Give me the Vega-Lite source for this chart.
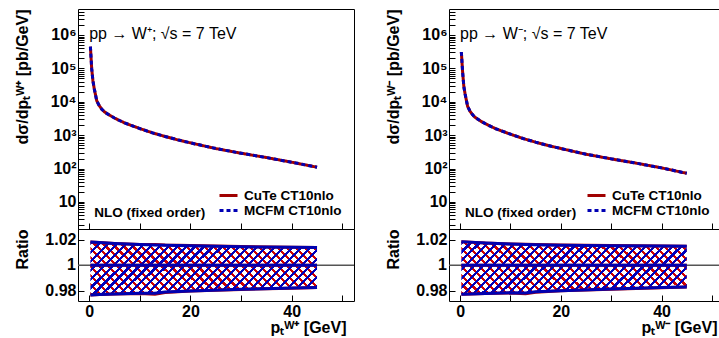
{
"$schema":"https://vega.github.io/schema/vega-lite/v6.json",
"autosize":{"type":"pad"},
"padding":{"left":13,"top":3,"right":0,"bottom":0},
"spacing":28,
"config":{
 "font":"Liberation Sans",
 "view":{"stroke":"black","strokeWidth":1},
 "axis":{"labelFont":"Liberation Sans","labelFontWeight":"bold","labelFontSize":16,"labelColor":"black","titleFont":"Liberation Sans","titleFontWeight":"bold","titleFontSize":16,"titleColor":"black","domain":false,"grid":false,"tickColor":"black","tickWidth":1,"tickSize":-6,"labelPadding":8},
 "axisY":{"minExtent":38,"maxExtent":38},
 "legend":{"orient":"bottom-right","offset":12,"padding":0,"symbolType":"M-1.5,0H1.5","symbolSize":144,"symbolStrokeWidth":3,"labelFont":"Liberation Sans","labelFontWeight":"bold","labelFontSize":13.5,"labelColor":"black","rowPadding":1,"labelOffset":8,"labelLimit":200}
},
"datasets":{
 "wp":[
  {"pt":0.25,"CuTe CT10nlo":447000,"MCFM CT10nlo":447000},
  {"pt":0.5,"CuTe CT10nlo":100000,"MCFM CT10nlo":100000},
  {"pt":0.75,"CuTe CT10nlo":42000,"MCFM CT10nlo":42000},
  {"pt":1,"CuTe CT10nlo":25000,"MCFM CT10nlo":25000},
  {"pt":1.5,"CuTe CT10nlo":10700,"MCFM CT10nlo":10700},
  {"pt":2,"CuTe CT10nlo":7600,"MCFM CT10nlo":7600},
  {"pt":2.5,"CuTe CT10nlo":6000,"MCFM CT10nlo":6000},
  {"pt":3,"CuTe CT10nlo":5000,"MCFM CT10nlo":5000},
  {"pt":4,"CuTe CT10nlo":3980,"MCFM CT10nlo":3980},
  {"pt":5,"CuTe CT10nlo":3270,"MCFM CT10nlo":3270},
  {"pt":6,"CuTe CT10nlo":2750,"MCFM CT10nlo":2750},
  {"pt":7,"CuTe CT10nlo":2340,"MCFM CT10nlo":2340},
  {"pt":8,"CuTe CT10nlo":2040,"MCFM CT10nlo":2040},
  {"pt":10,"CuTe CT10nlo":1580,"MCFM CT10nlo":1580},
  {"pt":12.5,"CuTe CT10nlo":1175,"MCFM CT10nlo":1175},
  {"pt":15,"CuTe CT10nlo":912,"MCFM CT10nlo":912},
  {"pt":17.5,"CuTe CT10nlo":724,"MCFM CT10nlo":724},
  {"pt":20,"CuTe CT10nlo":589,"MCFM CT10nlo":589},
  {"pt":25,"CuTe CT10nlo":398,"MCFM CT10nlo":398},
  {"pt":30,"CuTe CT10nlo":288,"MCFM CT10nlo":288},
  {"pt":35,"CuTe CT10nlo":214,"MCFM CT10nlo":214},
  {"pt":40,"CuTe CT10nlo":155,"MCFM CT10nlo":155},
  {"pt":45,"CuTe CT10nlo":110,"MCFM CT10nlo":110}
 ],
 "wm":[
  {"pt":0.25,"CuTe CT10nlo":310000,"MCFM CT10nlo":310000},
  {"pt":0.5,"CuTe CT10nlo":79000,"MCFM CT10nlo":79000},
  {"pt":0.75,"CuTe CT10nlo":28000,"MCFM CT10nlo":28000},
  {"pt":1,"CuTe CT10nlo":17000,"MCFM CT10nlo":17000},
  {"pt":1.5,"CuTe CT10nlo":7240,"MCFM CT10nlo":7240},
  {"pt":2,"CuTe CT10nlo":5130,"MCFM CT10nlo":5130},
  {"pt":2.5,"CuTe CT10nlo":4070,"MCFM CT10nlo":4070},
  {"pt":3,"CuTe CT10nlo":3390,"MCFM CT10nlo":3390},
  {"pt":4,"CuTe CT10nlo":2690,"MCFM CT10nlo":2690},
  {"pt":5,"CuTe CT10nlo":2210,"MCFM CT10nlo":2210},
  {"pt":6,"CuTe CT10nlo":1860,"MCFM CT10nlo":1860},
  {"pt":7,"CuTe CT10nlo":1580,"MCFM CT10nlo":1580},
  {"pt":8,"CuTe CT10nlo":1380,"MCFM CT10nlo":1380},
  {"pt":10,"CuTe CT10nlo":1070,"MCFM CT10nlo":1070},
  {"pt":12.5,"CuTe CT10nlo":794,"MCFM CT10nlo":794},
  {"pt":15,"CuTe CT10nlo":617,"MCFM CT10nlo":617},
  {"pt":17.5,"CuTe CT10nlo":490,"MCFM CT10nlo":490},
  {"pt":20,"CuTe CT10nlo":398,"MCFM CT10nlo":398},
  {"pt":25,"CuTe CT10nlo":269,"MCFM CT10nlo":269},
  {"pt":30,"CuTe CT10nlo":195,"MCFM CT10nlo":195},
  {"pt":35,"CuTe CT10nlo":145,"MCFM CT10nlo":145},
  {"pt":40,"CuTe CT10nlo":105,"MCFM CT10nlo":105},
  {"pt":45,"CuTe CT10nlo":72,"MCFM CT10nlo":72}
 ],
 "rp":[
  {"pt":0.25,"model":"CuTe CT10nlo","hi":1.0183,"mid":1,"lo":0.9768},
  {"pt":2,"model":"CuTe CT10nlo","hi":1.0180,"mid":1,"lo":0.9771},
  {"pt":5,"model":"CuTe CT10nlo","hi":1.0172,"mid":1,"lo":0.9775},
  {"pt":10,"model":"CuTe CT10nlo","hi":1.0164,"mid":1,"lo":0.9779},
  {"pt":13,"model":"CuTe CT10nlo","hi":1.0163,"mid":1,"lo":0.9773},
  {"pt":15,"model":"CuTe CT10nlo","hi":1.0159,"mid":1,"lo":0.9786},
  {"pt":20,"model":"CuTe CT10nlo","hi":1.0155,"mid":1,"lo":0.9798},
  {"pt":30,"model":"CuTe CT10nlo","hi":1.0147,"mid":1,"lo":0.9811},
  {"pt":40,"model":"CuTe CT10nlo","hi":1.0141,"mid":1,"lo":0.9821},
  {"pt":45,"model":"CuTe CT10nlo","hi":1.0139,"mid":1,"lo":0.9826},
  {"pt":0.25,"model":"MCFM CT10nlo","hi":1.0183,"mid":1,"lo":0.9768},
  {"pt":2,"model":"MCFM CT10nlo","hi":1.0180,"mid":1,"lo":0.9771},
  {"pt":5,"model":"MCFM CT10nlo","hi":1.0172,"mid":1,"lo":0.9775},
  {"pt":10,"model":"MCFM CT10nlo","hi":1.0163,"mid":1,"lo":0.9781},
  {"pt":13,"model":"MCFM CT10nlo","hi":1.0160,"mid":1,"lo":0.9780},
  {"pt":15,"model":"MCFM CT10nlo","hi":1.0157,"mid":1,"lo":0.9790},
  {"pt":20,"model":"MCFM CT10nlo","hi":1.0153,"mid":1,"lo":0.9799},
  {"pt":30,"model":"MCFM CT10nlo","hi":1.0146,"mid":1,"lo":0.9812},
  {"pt":40,"model":"MCFM CT10nlo","hi":1.0141,"mid":1,"lo":0.9822},
  {"pt":45,"model":"MCFM CT10nlo","hi":1.0139,"mid":1,"lo":0.9826}
 ],
 "rm":[
  {"pt":0.25,"model":"CuTe CT10nlo","hi":1.0185,"mid":1,"lo":0.9773},
  {"pt":2,"model":"CuTe CT10nlo","hi":1.0182,"mid":1,"lo":0.9775},
  {"pt":5,"model":"CuTe CT10nlo","hi":1.0175,"mid":1,"lo":0.9779},
  {"pt":10,"model":"CuTe CT10nlo","hi":1.0168,"mid":1,"lo":0.9782},
  {"pt":13,"model":"CuTe CT10nlo","hi":1.0166,"mid":1,"lo":0.9777},
  {"pt":15,"model":"CuTe CT10nlo","hi":1.0163,"mid":1,"lo":0.9789},
  {"pt":20,"model":"CuTe CT10nlo","hi":1.0159,"mid":1,"lo":0.9800},
  {"pt":30,"model":"CuTe CT10nlo","hi":1.0155,"mid":1,"lo":0.9813},
  {"pt":40,"model":"CuTe CT10nlo","hi":1.0151,"mid":1,"lo":0.9824},
  {"pt":45,"model":"CuTe CT10nlo","hi":1.0150,"mid":1,"lo":0.9830},
  {"pt":0.25,"model":"MCFM CT10nlo","hi":1.0185,"mid":1,"lo":0.9773},
  {"pt":2,"model":"MCFM CT10nlo","hi":1.0182,"mid":1,"lo":0.9775},
  {"pt":5,"model":"MCFM CT10nlo","hi":1.0175,"mid":1,"lo":0.9779},
  {"pt":10,"model":"MCFM CT10nlo","hi":1.0167,"mid":1,"lo":0.9784},
  {"pt":13,"model":"MCFM CT10nlo","hi":1.0163,"mid":1,"lo":0.9783},
  {"pt":15,"model":"MCFM CT10nlo","hi":1.0161,"mid":1,"lo":0.9792},
  {"pt":20,"model":"MCFM CT10nlo","hi":1.0158,"mid":1,"lo":0.9801},
  {"pt":30,"model":"MCFM CT10nlo","hi":1.0154,"mid":1,"lo":0.9814},
  {"pt":40,"model":"MCFM CT10nlo","hi":1.0151,"mid":1,"lo":0.9825},
  {"pt":45,"model":"MCFM CT10nlo","hi":1.0150,"mid":1,"lo":0.9830}
 ]
},
"resolve":{"scale":{"x":"independent","y":"independent","color":"independent","strokeDash":"independent","stroke":"independent"},"legend":{"color":"independent","strokeDash":"independent"}},
"hconcat":[
 {"bounds":"flush","spacing":0,
  "resolve":{"scale":{"x":"independent","y":"independent","color":"independent","strokeDash":"independent","stroke":"independent"},"legend":{"color":"independent","strokeDash":"independent"}},
  "vconcat":[
  {"width":276,"height":220,
   "layer":[
    {"data":{"name":"wp"},
     "transform":[{"fold":["CuTe CT10nlo","MCFM CT10nlo"],"as":["model","xs"]}],
     "mark":{"type":"line","strokeWidth":3},
     "encoding":{
      "x":{"field":"pt","type":"quantitative","scale":{"domain":[-2.2,52.3],"nice":false,"zero":false},
           "axis":{"values":[0,5,10,15,20,25,30,35,40,45,50],"labels":false,"title":null}},
      "y":{"field":"xs","type":"quantitative","scale":{"type":"log","domain":[1.55,6000000],"nice":false},
           "axis":{"values":[2,3,4,5,6,7,8,9,10,20,30,40,50,60,70,80,90,100,200,300,400,500,600,700,800,900,1000,2000,3000,4000,5000,6000,7000,8000,9000,10000,20000,30000,40000,50000,60000,70000,80000,90000,100000,200000,300000,400000,500000,600000,700000,800000,900000,1000000,2000000,3000000,4000000,5000000],
            "labelExpr":"datum.value==10?'10':datum.value==100?'10²':datum.value==1000?'10³':datum.value==10000?'10⁴':datum.value==100000?'10⁵':datum.value==1000000?'10⁶':''",
            "labelBound":false,"labelFlush":false,"labelOverlap":false,
            "title":"dσ/dpₜᵂ⁺ [pb/GeV]","titleAnchor":"end","titlePadding":10}},
      "color":{"field":"model","type":"nominal","scale":{"domain":["CuTe CT10nlo","MCFM CT10nlo"],"range":["#a00000","#0000b4"]},"legend":{"title":null}},
      "strokeDash":{"field":"model","type":"nominal","scale":{"domain":["CuTe CT10nlo","MCFM CT10nlo"],"range":[[1,0],[4,3]]},"legend":{"title":null}}
     }},
    {"data":{"values":[{"t":"pp → W⁺; √s = 7 TeV"}]},
     "mark":{"type":"text","align":"left","baseline":"middle","fontSize":16,"font":"Liberation Sans","color":"black"},
     "encoding":{"x":{"datum":0,"type":"quantitative"},"y":{"datum":1100000,"type":"quantitative"},"text":{"field":"t"}}},
    {"data":{"values":[{"t":"NLO (fixed order)"}]},
     "mark":{"type":"text","align":"left","baseline":"middle","fontSize":13.5,"fontWeight":"bold","font":"Liberation Sans","color":"black"},
     "encoding":{"x":{"datum":1,"type":"quantitative"},"y":{"datum":4.7,"type":"quantitative"},"text":{"field":"t"}}}
   ]},
  {"width":276,"height":72,
   "layer":[
    {"data":{"name":"rp"},"transform":[{"filter":"datum.model == 'CuTe CT10nlo'"}],
     "mark":{"type":"area","fill":{"gradient":"linear","x1":0,"y1":1,"x2":1.2,"y2":0.718,"stops":[
{"offset":0,"color":"transparent"},{"offset":0,"color":"#cc0000"},{"offset":0.011,"color":"#cc0000"},{"offset":0.011,"color":"transparent"},
{"offset":0.03125,"color":"transparent"},{"offset":0.03125,"color":"#cc0000"},{"offset":0.04225,"color":"#cc0000"},{"offset":0.04225,"color":"transparent"},
{"offset":0.0625,"color":"transparent"},{"offset":0.0625,"color":"#cc0000"},{"offset":0.0735,"color":"#cc0000"},{"offset":0.0735,"color":"transparent"},
{"offset":0.09375,"color":"transparent"},{"offset":0.09375,"color":"#cc0000"},{"offset":0.10475,"color":"#cc0000"},{"offset":0.10475,"color":"transparent"},
{"offset":0.125,"color":"transparent"},{"offset":0.125,"color":"#cc0000"},{"offset":0.136,"color":"#cc0000"},{"offset":0.136,"color":"transparent"},
{"offset":0.15625,"color":"transparent"},{"offset":0.15625,"color":"#cc0000"},{"offset":0.16725,"color":"#cc0000"},{"offset":0.16725,"color":"transparent"},
{"offset":0.1875,"color":"transparent"},{"offset":0.1875,"color":"#cc0000"},{"offset":0.1985,"color":"#cc0000"},{"offset":0.1985,"color":"transparent"},
{"offset":0.21875,"color":"transparent"},{"offset":0.21875,"color":"#cc0000"},{"offset":0.22975,"color":"#cc0000"},{"offset":0.22975,"color":"transparent"},
{"offset":0.25,"color":"transparent"},{"offset":0.25,"color":"#cc0000"},{"offset":0.261,"color":"#cc0000"},{"offset":0.261,"color":"transparent"},
{"offset":0.28125,"color":"transparent"},{"offset":0.28125,"color":"#cc0000"},{"offset":0.29225,"color":"#cc0000"},{"offset":0.29225,"color":"transparent"},
{"offset":0.3125,"color":"transparent"},{"offset":0.3125,"color":"#cc0000"},{"offset":0.3235,"color":"#cc0000"},{"offset":0.3235,"color":"transparent"},
{"offset":0.34375,"color":"transparent"},{"offset":0.34375,"color":"#cc0000"},{"offset":0.35475,"color":"#cc0000"},{"offset":0.35475,"color":"transparent"},
{"offset":0.375,"color":"transparent"},{"offset":0.375,"color":"#cc0000"},{"offset":0.386,"color":"#cc0000"},{"offset":0.386,"color":"transparent"},
{"offset":0.40625,"color":"transparent"},{"offset":0.40625,"color":"#cc0000"},{"offset":0.41725,"color":"#cc0000"},{"offset":0.41725,"color":"transparent"},
{"offset":0.4375,"color":"transparent"},{"offset":0.4375,"color":"#cc0000"},{"offset":0.4485,"color":"#cc0000"},{"offset":0.4485,"color":"transparent"},
{"offset":0.46875,"color":"transparent"},{"offset":0.46875,"color":"#cc0000"},{"offset":0.47975,"color":"#cc0000"},{"offset":0.47975,"color":"transparent"},
{"offset":0.5,"color":"transparent"},{"offset":0.5,"color":"#cc0000"},{"offset":0.511,"color":"#cc0000"},{"offset":0.511,"color":"transparent"},
{"offset":0.53125,"color":"transparent"},{"offset":0.53125,"color":"#cc0000"},{"offset":0.54225,"color":"#cc0000"},{"offset":0.54225,"color":"transparent"},
{"offset":0.5625,"color":"transparent"},{"offset":0.5625,"color":"#cc0000"},{"offset":0.5735,"color":"#cc0000"},{"offset":0.5735,"color":"transparent"},
{"offset":0.59375,"color":"transparent"},{"offset":0.59375,"color":"#cc0000"},{"offset":0.60475,"color":"#cc0000"},{"offset":0.60475,"color":"transparent"},
{"offset":0.625,"color":"transparent"},{"offset":0.625,"color":"#cc0000"},{"offset":0.636,"color":"#cc0000"},{"offset":0.636,"color":"transparent"},
{"offset":0.65625,"color":"transparent"},{"offset":0.65625,"color":"#cc0000"},{"offset":0.66725,"color":"#cc0000"},{"offset":0.66725,"color":"transparent"},
{"offset":0.6875,"color":"transparent"},{"offset":0.6875,"color":"#cc0000"},{"offset":0.6985,"color":"#cc0000"},{"offset":0.6985,"color":"transparent"},
{"offset":0.71875,"color":"transparent"},{"offset":0.71875,"color":"#cc0000"},{"offset":0.72975,"color":"#cc0000"},{"offset":0.72975,"color":"transparent"},
{"offset":0.75,"color":"transparent"},{"offset":0.75,"color":"#cc0000"},{"offset":0.761,"color":"#cc0000"},{"offset":0.761,"color":"transparent"},
{"offset":0.78125,"color":"transparent"},{"offset":0.78125,"color":"#cc0000"},{"offset":0.79225,"color":"#cc0000"},{"offset":0.79225,"color":"transparent"},
{"offset":0.8125,"color":"transparent"},{"offset":0.8125,"color":"#cc0000"},{"offset":0.8235,"color":"#cc0000"},{"offset":0.8235,"color":"transparent"},
{"offset":0.84375,"color":"transparent"},{"offset":0.84375,"color":"#cc0000"},{"offset":0.85475,"color":"#cc0000"},{"offset":0.85475,"color":"transparent"},
{"offset":0.875,"color":"transparent"},{"offset":0.875,"color":"#cc0000"},{"offset":0.886,"color":"#cc0000"},{"offset":0.886,"color":"transparent"},
{"offset":0.90625,"color":"transparent"},{"offset":0.90625,"color":"#cc0000"},{"offset":0.91725,"color":"#cc0000"},{"offset":0.91725,"color":"transparent"},
{"offset":0.9375,"color":"transparent"},{"offset":0.9375,"color":"#cc0000"},{"offset":0.9485,"color":"#cc0000"},{"offset":0.9485,"color":"transparent"},
{"offset":0.96875,"color":"transparent"},{"offset":0.96875,"color":"#cc0000"},{"offset":0.97975,"color":"#cc0000"},{"offset":0.97975,"color":"transparent"}
]}},
     "encoding":{
      "x":{"field":"pt","type":"quantitative","scale":{"domain":[-2.2,52.3],"nice":false,"zero":false},
           "axis":{"values":[0,5,10,15,20,25,30,35,40,45,50],"labelExpr":"datum.value==0?'0':datum.value==20?'20':datum.value==40?'40':''","labelOverlap":false,"title":"pₜᵂ⁺ [GeV]","titleAnchor":"end","titleAlign":"right","titleX":268,"titlePadding":0}},
      "y":{"field":"hi","type":"quantitative","scale":{"domain":[0.972,1.0285],"nice":false,"zero":false},
           "axis":{"values":[0.98,1,1.02],"format":"~g",
            "labelOverlap":false,"labelBound":false,"labelFlush":false,
            "title":"Ratio","titleAnchor":"end","titlePadding":10}},
      "y2":{"field":"lo"}}},
    {"data":{"values":[{"r":1}]},"mark":{"type":"rule","color":"#555555","strokeWidth":1.5},
     "encoding":{"y":{"field":"r","type":"quantitative"}}},
    {"data":{"name":"rp"},"transform":[{"filter":"datum.model == 'MCFM CT10nlo'"}],
     "mark":{"type":"area","fill":{"gradient":"linear","x1":0,"y1":0,"x2":1.2,"y2":0.282,"stops":[
{"offset":0,"color":"transparent"},{"offset":0,"color":"#0000bb"},{"offset":0.011,"color":"#0000bb"},{"offset":0.011,"color":"transparent"},
{"offset":0.03125,"color":"transparent"},{"offset":0.03125,"color":"#0000bb"},{"offset":0.04225,"color":"#0000bb"},{"offset":0.04225,"color":"transparent"},
{"offset":0.0625,"color":"transparent"},{"offset":0.0625,"color":"#0000bb"},{"offset":0.0735,"color":"#0000bb"},{"offset":0.0735,"color":"transparent"},
{"offset":0.09375,"color":"transparent"},{"offset":0.09375,"color":"#0000bb"},{"offset":0.10475,"color":"#0000bb"},{"offset":0.10475,"color":"transparent"},
{"offset":0.125,"color":"transparent"},{"offset":0.125,"color":"#0000bb"},{"offset":0.136,"color":"#0000bb"},{"offset":0.136,"color":"transparent"},
{"offset":0.15625,"color":"transparent"},{"offset":0.15625,"color":"#0000bb"},{"offset":0.16725,"color":"#0000bb"},{"offset":0.16725,"color":"transparent"},
{"offset":0.1875,"color":"transparent"},{"offset":0.1875,"color":"#0000bb"},{"offset":0.1985,"color":"#0000bb"},{"offset":0.1985,"color":"transparent"},
{"offset":0.21875,"color":"transparent"},{"offset":0.21875,"color":"#0000bb"},{"offset":0.22975,"color":"#0000bb"},{"offset":0.22975,"color":"transparent"},
{"offset":0.25,"color":"transparent"},{"offset":0.25,"color":"#0000bb"},{"offset":0.261,"color":"#0000bb"},{"offset":0.261,"color":"transparent"},
{"offset":0.28125,"color":"transparent"},{"offset":0.28125,"color":"#0000bb"},{"offset":0.29225,"color":"#0000bb"},{"offset":0.29225,"color":"transparent"},
{"offset":0.3125,"color":"transparent"},{"offset":0.3125,"color":"#0000bb"},{"offset":0.3235,"color":"#0000bb"},{"offset":0.3235,"color":"transparent"},
{"offset":0.34375,"color":"transparent"},{"offset":0.34375,"color":"#0000bb"},{"offset":0.35475,"color":"#0000bb"},{"offset":0.35475,"color":"transparent"},
{"offset":0.375,"color":"transparent"},{"offset":0.375,"color":"#0000bb"},{"offset":0.386,"color":"#0000bb"},{"offset":0.386,"color":"transparent"},
{"offset":0.40625,"color":"transparent"},{"offset":0.40625,"color":"#0000bb"},{"offset":0.41725,"color":"#0000bb"},{"offset":0.41725,"color":"transparent"},
{"offset":0.4375,"color":"transparent"},{"offset":0.4375,"color":"#0000bb"},{"offset":0.4485,"color":"#0000bb"},{"offset":0.4485,"color":"transparent"},
{"offset":0.46875,"color":"transparent"},{"offset":0.46875,"color":"#0000bb"},{"offset":0.47975,"color":"#0000bb"},{"offset":0.47975,"color":"transparent"},
{"offset":0.5,"color":"transparent"},{"offset":0.5,"color":"#0000bb"},{"offset":0.511,"color":"#0000bb"},{"offset":0.511,"color":"transparent"},
{"offset":0.53125,"color":"transparent"},{"offset":0.53125,"color":"#0000bb"},{"offset":0.54225,"color":"#0000bb"},{"offset":0.54225,"color":"transparent"},
{"offset":0.5625,"color":"transparent"},{"offset":0.5625,"color":"#0000bb"},{"offset":0.5735,"color":"#0000bb"},{"offset":0.5735,"color":"transparent"},
{"offset":0.59375,"color":"transparent"},{"offset":0.59375,"color":"#0000bb"},{"offset":0.60475,"color":"#0000bb"},{"offset":0.60475,"color":"transparent"},
{"offset":0.625,"color":"transparent"},{"offset":0.625,"color":"#0000bb"},{"offset":0.636,"color":"#0000bb"},{"offset":0.636,"color":"transparent"},
{"offset":0.65625,"color":"transparent"},{"offset":0.65625,"color":"#0000bb"},{"offset":0.66725,"color":"#0000bb"},{"offset":0.66725,"color":"transparent"},
{"offset":0.6875,"color":"transparent"},{"offset":0.6875,"color":"#0000bb"},{"offset":0.6985,"color":"#0000bb"},{"offset":0.6985,"color":"transparent"},
{"offset":0.71875,"color":"transparent"},{"offset":0.71875,"color":"#0000bb"},{"offset":0.72975,"color":"#0000bb"},{"offset":0.72975,"color":"transparent"},
{"offset":0.75,"color":"transparent"},{"offset":0.75,"color":"#0000bb"},{"offset":0.761,"color":"#0000bb"},{"offset":0.761,"color":"transparent"},
{"offset":0.78125,"color":"transparent"},{"offset":0.78125,"color":"#0000bb"},{"offset":0.79225,"color":"#0000bb"},{"offset":0.79225,"color":"transparent"},
{"offset":0.8125,"color":"transparent"},{"offset":0.8125,"color":"#0000bb"},{"offset":0.8235,"color":"#0000bb"},{"offset":0.8235,"color":"transparent"},
{"offset":0.84375,"color":"transparent"},{"offset":0.84375,"color":"#0000bb"},{"offset":0.85475,"color":"#0000bb"},{"offset":0.85475,"color":"transparent"},
{"offset":0.875,"color":"transparent"},{"offset":0.875,"color":"#0000bb"},{"offset":0.886,"color":"#0000bb"},{"offset":0.886,"color":"transparent"},
{"offset":0.90625,"color":"transparent"},{"offset":0.90625,"color":"#0000bb"},{"offset":0.91725,"color":"#0000bb"},{"offset":0.91725,"color":"transparent"},
{"offset":0.9375,"color":"transparent"},{"offset":0.9375,"color":"#0000bb"},{"offset":0.9485,"color":"#0000bb"},{"offset":0.9485,"color":"transparent"},
{"offset":0.96875,"color":"transparent"},{"offset":0.96875,"color":"#0000bb"},{"offset":0.97975,"color":"#0000bb"},{"offset":0.97975,"color":"transparent"}
]}},
     "encoding":{"x":{"field":"pt","type":"quantitative"},"y":{"field":"hi","type":"quantitative"},"y2":{"field":"lo"}}},
    {"data":{"name":"rp"},"mark":{"type":"line","strokeWidth":3},
     "encoding":{"x":{"field":"pt","type":"quantitative"},"y":{"field":"hi","type":"quantitative"},
      "stroke":{"field":"model","type":"nominal","scale":{"domain":["CuTe CT10nlo","MCFM CT10nlo"],"range":["#b00000","#0000b0"]},"legend":null}}},
    {"data":{"name":"rp"},"mark":{"type":"line","strokeWidth":3},
     "encoding":{"x":{"field":"pt","type":"quantitative"},"y":{"field":"lo","type":"quantitative"},
      "stroke":{"field":"model","type":"nominal","legend":null}}},
    {"data":{"name":"rp"},"mark":{"type":"line","strokeWidth":3},
     "encoding":{"x":{"field":"pt","type":"quantitative"},"y":{"field":"mid","type":"quantitative"},
      "stroke":{"field":"model","type":"nominal","legend":null}}},
    {"data":{"values":[{"t":"1"}]},
     "mark":{"type":"text","align":"right","baseline":"middle","dx":-2,"fontSize":16,"fontWeight":"bold","font":"Liberation Sans","color":"black"},
     "encoding":{"x":{"datum":-2.2,"type":"quantitative"},"y":{"datum":1,"type":"quantitative"},"text":{"field":"t"}}}
   ]}
 ]},
 {"bounds":"flush","spacing":0,
  "resolve":{"scale":{"x":"independent","y":"independent","color":"independent","strokeDash":"independent","stroke":"independent"},"legend":{"color":"independent","strokeDash":"independent"}},
  "vconcat":[
  {"width":273,"height":220,
   "layer":[
    {"data":{"name":"wm"},
     "transform":[{"fold":["CuTe CT10nlo","MCFM CT10nlo"],"as":["model","xs"]}],
     "mark":{"type":"line","strokeWidth":3},
     "encoding":{
      "x":{"field":"pt","type":"quantitative","scale":{"domain":[-2.2,52.0],"nice":false,"zero":false},
           "axis":{"values":[0,5,10,15,20,25,30,35,40,45,50],"labels":false,"title":null}},
      "y":{"field":"xs","type":"quantitative","scale":{"type":"log","domain":[1.55,6000000],"nice":false},
           "axis":{"values":[2,3,4,5,6,7,8,9,10,20,30,40,50,60,70,80,90,100,200,300,400,500,600,700,800,900,1000,2000,3000,4000,5000,6000,7000,8000,9000,10000,20000,30000,40000,50000,60000,70000,80000,90000,100000,200000,300000,400000,500000,600000,700000,800000,900000,1000000,2000000,3000000,4000000,5000000],
            "labelExpr":"datum.value==10?'10':datum.value==100?'10²':datum.value==1000?'10³':datum.value==10000?'10⁴':datum.value==100000?'10⁵':datum.value==1000000?'10⁶':''",
            "labelBound":false,"labelFlush":false,"labelOverlap":false,
            "title":"dσ/dpₜᵂ⁻ [pb/GeV]","titleAnchor":"end","titlePadding":10}},
      "color":{"field":"model","type":"nominal","scale":{"domain":["CuTe CT10nlo","MCFM CT10nlo"],"range":["#a00000","#0000b4"]},"legend":{"title":null}},
      "strokeDash":{"field":"model","type":"nominal","scale":{"domain":["CuTe CT10nlo","MCFM CT10nlo"],"range":[[1,0],[4,3]]},"legend":{"title":null}}
     }},
    {"data":{"values":[{"t":"pp → W⁻; √s = 7 TeV"}]},
     "mark":{"type":"text","align":"left","baseline":"middle","fontSize":16,"font":"Liberation Sans","color":"black"},
     "encoding":{"x":{"datum":0,"type":"quantitative"},"y":{"datum":1100000,"type":"quantitative"},"text":{"field":"t"}}},
    {"data":{"values":[{"t":"NLO (fixed order)"}]},
     "mark":{"type":"text","align":"left","baseline":"middle","fontSize":13.5,"fontWeight":"bold","font":"Liberation Sans","color":"black"},
     "encoding":{"x":{"datum":1,"type":"quantitative"},"y":{"datum":4.7,"type":"quantitative"},"text":{"field":"t"}}}
   ]},
  {"width":273,"height":72,
   "layer":[
    {"data":{"name":"rm"},"transform":[{"filter":"datum.model == 'CuTe CT10nlo'"}],
     "mark":{"type":"area","fill":{"gradient":"linear","x1":0,"y1":1,"x2":1.2,"y2":0.718,"stops":[
{"offset":0,"color":"transparent"},{"offset":0,"color":"#cc0000"},{"offset":0.011,"color":"#cc0000"},{"offset":0.011,"color":"transparent"},
{"offset":0.03125,"color":"transparent"},{"offset":0.03125,"color":"#cc0000"},{"offset":0.04225,"color":"#cc0000"},{"offset":0.04225,"color":"transparent"},
{"offset":0.0625,"color":"transparent"},{"offset":0.0625,"color":"#cc0000"},{"offset":0.0735,"color":"#cc0000"},{"offset":0.0735,"color":"transparent"},
{"offset":0.09375,"color":"transparent"},{"offset":0.09375,"color":"#cc0000"},{"offset":0.10475,"color":"#cc0000"},{"offset":0.10475,"color":"transparent"},
{"offset":0.125,"color":"transparent"},{"offset":0.125,"color":"#cc0000"},{"offset":0.136,"color":"#cc0000"},{"offset":0.136,"color":"transparent"},
{"offset":0.15625,"color":"transparent"},{"offset":0.15625,"color":"#cc0000"},{"offset":0.16725,"color":"#cc0000"},{"offset":0.16725,"color":"transparent"},
{"offset":0.1875,"color":"transparent"},{"offset":0.1875,"color":"#cc0000"},{"offset":0.1985,"color":"#cc0000"},{"offset":0.1985,"color":"transparent"},
{"offset":0.21875,"color":"transparent"},{"offset":0.21875,"color":"#cc0000"},{"offset":0.22975,"color":"#cc0000"},{"offset":0.22975,"color":"transparent"},
{"offset":0.25,"color":"transparent"},{"offset":0.25,"color":"#cc0000"},{"offset":0.261,"color":"#cc0000"},{"offset":0.261,"color":"transparent"},
{"offset":0.28125,"color":"transparent"},{"offset":0.28125,"color":"#cc0000"},{"offset":0.29225,"color":"#cc0000"},{"offset":0.29225,"color":"transparent"},
{"offset":0.3125,"color":"transparent"},{"offset":0.3125,"color":"#cc0000"},{"offset":0.3235,"color":"#cc0000"},{"offset":0.3235,"color":"transparent"},
{"offset":0.34375,"color":"transparent"},{"offset":0.34375,"color":"#cc0000"},{"offset":0.35475,"color":"#cc0000"},{"offset":0.35475,"color":"transparent"},
{"offset":0.375,"color":"transparent"},{"offset":0.375,"color":"#cc0000"},{"offset":0.386,"color":"#cc0000"},{"offset":0.386,"color":"transparent"},
{"offset":0.40625,"color":"transparent"},{"offset":0.40625,"color":"#cc0000"},{"offset":0.41725,"color":"#cc0000"},{"offset":0.41725,"color":"transparent"},
{"offset":0.4375,"color":"transparent"},{"offset":0.4375,"color":"#cc0000"},{"offset":0.4485,"color":"#cc0000"},{"offset":0.4485,"color":"transparent"},
{"offset":0.46875,"color":"transparent"},{"offset":0.46875,"color":"#cc0000"},{"offset":0.47975,"color":"#cc0000"},{"offset":0.47975,"color":"transparent"},
{"offset":0.5,"color":"transparent"},{"offset":0.5,"color":"#cc0000"},{"offset":0.511,"color":"#cc0000"},{"offset":0.511,"color":"transparent"},
{"offset":0.53125,"color":"transparent"},{"offset":0.53125,"color":"#cc0000"},{"offset":0.54225,"color":"#cc0000"},{"offset":0.54225,"color":"transparent"},
{"offset":0.5625,"color":"transparent"},{"offset":0.5625,"color":"#cc0000"},{"offset":0.5735,"color":"#cc0000"},{"offset":0.5735,"color":"transparent"},
{"offset":0.59375,"color":"transparent"},{"offset":0.59375,"color":"#cc0000"},{"offset":0.60475,"color":"#cc0000"},{"offset":0.60475,"color":"transparent"},
{"offset":0.625,"color":"transparent"},{"offset":0.625,"color":"#cc0000"},{"offset":0.636,"color":"#cc0000"},{"offset":0.636,"color":"transparent"},
{"offset":0.65625,"color":"transparent"},{"offset":0.65625,"color":"#cc0000"},{"offset":0.66725,"color":"#cc0000"},{"offset":0.66725,"color":"transparent"},
{"offset":0.6875,"color":"transparent"},{"offset":0.6875,"color":"#cc0000"},{"offset":0.6985,"color":"#cc0000"},{"offset":0.6985,"color":"transparent"},
{"offset":0.71875,"color":"transparent"},{"offset":0.71875,"color":"#cc0000"},{"offset":0.72975,"color":"#cc0000"},{"offset":0.72975,"color":"transparent"},
{"offset":0.75,"color":"transparent"},{"offset":0.75,"color":"#cc0000"},{"offset":0.761,"color":"#cc0000"},{"offset":0.761,"color":"transparent"},
{"offset":0.78125,"color":"transparent"},{"offset":0.78125,"color":"#cc0000"},{"offset":0.79225,"color":"#cc0000"},{"offset":0.79225,"color":"transparent"},
{"offset":0.8125,"color":"transparent"},{"offset":0.8125,"color":"#cc0000"},{"offset":0.8235,"color":"#cc0000"},{"offset":0.8235,"color":"transparent"},
{"offset":0.84375,"color":"transparent"},{"offset":0.84375,"color":"#cc0000"},{"offset":0.85475,"color":"#cc0000"},{"offset":0.85475,"color":"transparent"},
{"offset":0.875,"color":"transparent"},{"offset":0.875,"color":"#cc0000"},{"offset":0.886,"color":"#cc0000"},{"offset":0.886,"color":"transparent"},
{"offset":0.90625,"color":"transparent"},{"offset":0.90625,"color":"#cc0000"},{"offset":0.91725,"color":"#cc0000"},{"offset":0.91725,"color":"transparent"},
{"offset":0.9375,"color":"transparent"},{"offset":0.9375,"color":"#cc0000"},{"offset":0.9485,"color":"#cc0000"},{"offset":0.9485,"color":"transparent"},
{"offset":0.96875,"color":"transparent"},{"offset":0.96875,"color":"#cc0000"},{"offset":0.97975,"color":"#cc0000"},{"offset":0.97975,"color":"transparent"}
]}},
     "encoding":{
      "x":{"field":"pt","type":"quantitative","scale":{"domain":[-2.2,52.0],"nice":false,"zero":false},
           "axis":{"values":[0,5,10,15,20,25,30,35,40,45,50],"labelExpr":"datum.value==0?'0':datum.value==20?'20':datum.value==40?'40':''","labelOverlap":false,"title":"pₜᵂ⁻ [GeV]","titleAnchor":"end","titleAlign":"right","titleX":268,"titlePadding":0}},
      "y":{"field":"hi","type":"quantitative","scale":{"domain":[0.972,1.0285],"nice":false,"zero":false},
           "axis":{"values":[0.98,1,1.02],"format":"~g",
            "labelOverlap":false,"labelBound":false,"labelFlush":false,
            "title":"Ratio","titleAnchor":"end","titlePadding":10}},
      "y2":{"field":"lo"}}},
    {"data":{"values":[{"r":1}]},"mark":{"type":"rule","color":"#555555","strokeWidth":1.5},
     "encoding":{"y":{"field":"r","type":"quantitative"}}},
    {"data":{"name":"rm"},"transform":[{"filter":"datum.model == 'MCFM CT10nlo'"}],
     "mark":{"type":"area","fill":{"gradient":"linear","x1":0,"y1":0,"x2":1.2,"y2":0.282,"stops":[
{"offset":0,"color":"transparent"},{"offset":0,"color":"#0000bb"},{"offset":0.011,"color":"#0000bb"},{"offset":0.011,"color":"transparent"},
{"offset":0.03125,"color":"transparent"},{"offset":0.03125,"color":"#0000bb"},{"offset":0.04225,"color":"#0000bb"},{"offset":0.04225,"color":"transparent"},
{"offset":0.0625,"color":"transparent"},{"offset":0.0625,"color":"#0000bb"},{"offset":0.0735,"color":"#0000bb"},{"offset":0.0735,"color":"transparent"},
{"offset":0.09375,"color":"transparent"},{"offset":0.09375,"color":"#0000bb"},{"offset":0.10475,"color":"#0000bb"},{"offset":0.10475,"color":"transparent"},
{"offset":0.125,"color":"transparent"},{"offset":0.125,"color":"#0000bb"},{"offset":0.136,"color":"#0000bb"},{"offset":0.136,"color":"transparent"},
{"offset":0.15625,"color":"transparent"},{"offset":0.15625,"color":"#0000bb"},{"offset":0.16725,"color":"#0000bb"},{"offset":0.16725,"color":"transparent"},
{"offset":0.1875,"color":"transparent"},{"offset":0.1875,"color":"#0000bb"},{"offset":0.1985,"color":"#0000bb"},{"offset":0.1985,"color":"transparent"},
{"offset":0.21875,"color":"transparent"},{"offset":0.21875,"color":"#0000bb"},{"offset":0.22975,"color":"#0000bb"},{"offset":0.22975,"color":"transparent"},
{"offset":0.25,"color":"transparent"},{"offset":0.25,"color":"#0000bb"},{"offset":0.261,"color":"#0000bb"},{"offset":0.261,"color":"transparent"},
{"offset":0.28125,"color":"transparent"},{"offset":0.28125,"color":"#0000bb"},{"offset":0.29225,"color":"#0000bb"},{"offset":0.29225,"color":"transparent"},
{"offset":0.3125,"color":"transparent"},{"offset":0.3125,"color":"#0000bb"},{"offset":0.3235,"color":"#0000bb"},{"offset":0.3235,"color":"transparent"},
{"offset":0.34375,"color":"transparent"},{"offset":0.34375,"color":"#0000bb"},{"offset":0.35475,"color":"#0000bb"},{"offset":0.35475,"color":"transparent"},
{"offset":0.375,"color":"transparent"},{"offset":0.375,"color":"#0000bb"},{"offset":0.386,"color":"#0000bb"},{"offset":0.386,"color":"transparent"},
{"offset":0.40625,"color":"transparent"},{"offset":0.40625,"color":"#0000bb"},{"offset":0.41725,"color":"#0000bb"},{"offset":0.41725,"color":"transparent"},
{"offset":0.4375,"color":"transparent"},{"offset":0.4375,"color":"#0000bb"},{"offset":0.4485,"color":"#0000bb"},{"offset":0.4485,"color":"transparent"},
{"offset":0.46875,"color":"transparent"},{"offset":0.46875,"color":"#0000bb"},{"offset":0.47975,"color":"#0000bb"},{"offset":0.47975,"color":"transparent"},
{"offset":0.5,"color":"transparent"},{"offset":0.5,"color":"#0000bb"},{"offset":0.511,"color":"#0000bb"},{"offset":0.511,"color":"transparent"},
{"offset":0.53125,"color":"transparent"},{"offset":0.53125,"color":"#0000bb"},{"offset":0.54225,"color":"#0000bb"},{"offset":0.54225,"color":"transparent"},
{"offset":0.5625,"color":"transparent"},{"offset":0.5625,"color":"#0000bb"},{"offset":0.5735,"color":"#0000bb"},{"offset":0.5735,"color":"transparent"},
{"offset":0.59375,"color":"transparent"},{"offset":0.59375,"color":"#0000bb"},{"offset":0.60475,"color":"#0000bb"},{"offset":0.60475,"color":"transparent"},
{"offset":0.625,"color":"transparent"},{"offset":0.625,"color":"#0000bb"},{"offset":0.636,"color":"#0000bb"},{"offset":0.636,"color":"transparent"},
{"offset":0.65625,"color":"transparent"},{"offset":0.65625,"color":"#0000bb"},{"offset":0.66725,"color":"#0000bb"},{"offset":0.66725,"color":"transparent"},
{"offset":0.6875,"color":"transparent"},{"offset":0.6875,"color":"#0000bb"},{"offset":0.6985,"color":"#0000bb"},{"offset":0.6985,"color":"transparent"},
{"offset":0.71875,"color":"transparent"},{"offset":0.71875,"color":"#0000bb"},{"offset":0.72975,"color":"#0000bb"},{"offset":0.72975,"color":"transparent"},
{"offset":0.75,"color":"transparent"},{"offset":0.75,"color":"#0000bb"},{"offset":0.761,"color":"#0000bb"},{"offset":0.761,"color":"transparent"},
{"offset":0.78125,"color":"transparent"},{"offset":0.78125,"color":"#0000bb"},{"offset":0.79225,"color":"#0000bb"},{"offset":0.79225,"color":"transparent"},
{"offset":0.8125,"color":"transparent"},{"offset":0.8125,"color":"#0000bb"},{"offset":0.8235,"color":"#0000bb"},{"offset":0.8235,"color":"transparent"},
{"offset":0.84375,"color":"transparent"},{"offset":0.84375,"color":"#0000bb"},{"offset":0.85475,"color":"#0000bb"},{"offset":0.85475,"color":"transparent"},
{"offset":0.875,"color":"transparent"},{"offset":0.875,"color":"#0000bb"},{"offset":0.886,"color":"#0000bb"},{"offset":0.886,"color":"transparent"},
{"offset":0.90625,"color":"transparent"},{"offset":0.90625,"color":"#0000bb"},{"offset":0.91725,"color":"#0000bb"},{"offset":0.91725,"color":"transparent"},
{"offset":0.9375,"color":"transparent"},{"offset":0.9375,"color":"#0000bb"},{"offset":0.9485,"color":"#0000bb"},{"offset":0.9485,"color":"transparent"},
{"offset":0.96875,"color":"transparent"},{"offset":0.96875,"color":"#0000bb"},{"offset":0.97975,"color":"#0000bb"},{"offset":0.97975,"color":"transparent"}
]}},
     "encoding":{"x":{"field":"pt","type":"quantitative"},"y":{"field":"hi","type":"quantitative"},"y2":{"field":"lo"}}},
    {"data":{"name":"rm"},"mark":{"type":"line","strokeWidth":3},
     "encoding":{"x":{"field":"pt","type":"quantitative"},"y":{"field":"hi","type":"quantitative"},
      "stroke":{"field":"model","type":"nominal","scale":{"domain":["CuTe CT10nlo","MCFM CT10nlo"],"range":["#b00000","#0000b0"]},"legend":null}}},
    {"data":{"name":"rm"},"mark":{"type":"line","strokeWidth":3},
     "encoding":{"x":{"field":"pt","type":"quantitative"},"y":{"field":"lo","type":"quantitative"},
      "stroke":{"field":"model","type":"nominal","legend":null}}},
    {"data":{"name":"rm"},"mark":{"type":"line","strokeWidth":3},
     "encoding":{"x":{"field":"pt","type":"quantitative"},"y":{"field":"mid","type":"quantitative"},
      "stroke":{"field":"model","type":"nominal","legend":null}}},
    {"data":{"values":[{"t":"1"}]},
     "mark":{"type":"text","align":"right","baseline":"middle","dx":-2,"fontSize":16,"fontWeight":"bold","font":"Liberation Sans","color":"black"},
     "encoding":{"x":{"datum":-2.2,"type":"quantitative"},"y":{"datum":1,"type":"quantitative"},"text":{"field":"t"}}}
   ]}
 ]}
]
}
